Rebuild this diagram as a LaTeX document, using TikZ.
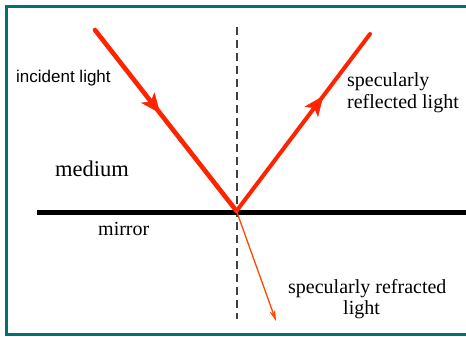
\documentclass[tikz,border=0pt]{standalone}
\usepackage{fontspec}
\setmainfont{Liberation Serif}
\newfontfamily\timesfont{Liberation Serif}
\newfontfamily\arialfont{Liberation Sans}
\usetikzlibrary{arrows.meta,decorations.markings}
\definecolor{frameteal}{RGB}{0,112,112}
\definecolor{rayred}{RGB}{255,36,0}
\definecolor{rayorange}{RGB}{255,72,0}
\tikzset{
  ray/.style={draw=rayred, line width=4.6pt, line cap=round},
  midarrow/.style={postaction={decorate, decoration={markings,
      mark=at position #1 with {\arrow{Stealth[length=20pt,width=17pt,inset=5pt,fill=rayred,line width=0.5pt]}}}}},
  serif20/.style={font=\timesfont\fontsize{20}{24}\selectfont, inner sep=0pt, anchor=base west},
  sanslabel/.style={font=\arialfont\fontsize{17}{20}\selectfont, inner sep=0pt, anchor=base west},
}
\begin{document}
\begin{tikzpicture}[x=1pt,y=-1pt]
\useasboundingbox (0,0) rectangle (466,337);
\fill[white] (0,0) rectangle (466,337);
\begin{scope}
\clip (0,0) rectangle (466,337);
\draw[frameteal, line width=3pt] (6.5,6.5) rectangle (480,334.5);
\end{scope}
% geometry
\coordinate (O) at (236.5,211);
\coordinate (I) at (95,30);
\coordinate (R) at (370,34);
\coordinate (T) at (276,321);
\coordinate (ML) at (37,212.5);
\coordinate (MR) at (466,212.5);
\coordinate (NT) at (237,27);
\coordinate (NB) at (237,319);
% normal
\draw[black!75, line width=1.3pt, dash pattern=on 8pt off 5pt] (NT) -- (NB);
% mirror
\draw[black, line width=5pt] (ML) -- (MR);
% rays
\draw[ray, midarrow=0.46] (I) -- (O);
\draw[ray, line width=4pt, midarrow=0.65] (O) -- (R);
\draw[rayorange, line width=1.3pt, -{Stealth[length=11pt,width=6pt]}] (O) -- (T);
% labels
\node[sanslabel] (lin) at (16,83) {incident light};
\node[font=\timesfont\fontsize{22.5}{26}\selectfont, inner sep=0pt, anchor=base west] (lmed) at (55,176) {medium};
\node[serif20] (lmir) at (98,235) {mirror};
\node[serif20] (lre1) at (347,86) {specularly};
\node[serif20] (lre2) at (347,109) {reflected light};
\node[serif20] (lrf1) at (288,293) {specularly refracted};
\node[serif20] (lrf2) at (343,314) {light};
\end{tikzpicture}
\end{document}
